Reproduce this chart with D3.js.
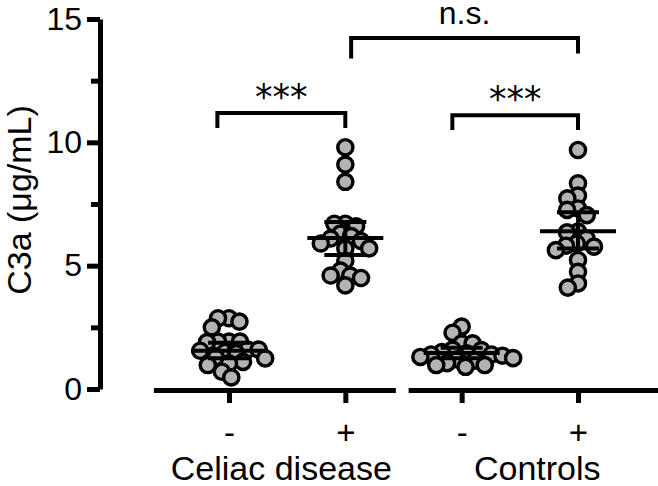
<!DOCTYPE html>
<html>
<head>
<meta charset="utf-8">
<script src="https://cdn.jsdelivr.net/npm/d3@7"></script>
<style>
  body { margin: 0; background: #fff; }
  svg { display: block; }
  text { font-family: "Liberation Sans", Arial, sans-serif; fill: #000; }
</style>
</head>
<body>
<svg id="chart" width="658" height="486"></svg>
<script>
// group labels along the x axis
var conditions = ['-', '+', '-', '+'];
var categories = ['Celiac disease', 'Controls'];

// C3a (ug/mL), one array per group
var celiacNeg = [2.87, 2.73, 2.87, 2.5, 1.92, 1.92, 1.9, 1.92, 1.6, 1.55, 1.5, 1.45,
                 1.6, 1.24, 1.28, 0.97, 1.04, 0.7, 0.47, 1.1];
var celiacPos = [9.8, 9.1, 8.4, 6.7, 6.6, 6.7, 6.3, 6.2, 6.0, 6.1, 5.9, 5.7, 5.7,
                 5.2, 4.8, 4.6, 4.5, 4.6, 4.2];
var controlNeg = [2.53, 2.28, 1.85, 1.85, 1.6, 1.58, 1.5, 1.45, 1.4, 1.4, 1.35, 1.3,
                  1.25, 1.2, 1.15, 1.05, 0.97, 0.97, 0.9];
var controlPos = [9.69, 8.34, 7.84, 7.73, 7.05, 7.32, 7.26, 6.35, 6.38, 5.81, 5.63,
                  5.77, 5.23, 4.75, 4.11, 4.28, 5.9, 6.1];

// mean with 95% CI
var means = [1.55, 6.12, 1.46, 6.4];
var ciLow = [1.25, 5.43, 1.25, 5.7];
var ciHigh = [1.87, 6.77, 1.67, 7.17];

var yTicks = [0, 5, 10, 15];
var yMinor = [2.5, 7.5, 12.5];

// significance brackets: from/to in group units, top level, leg ends
var comparisons = [
    {from: -0.1, to: 1, top: 11.19, legL: 10.58, legR: 10.58, label: '***'},
    {from: 1.92, to: 3, top: 11.1, legL: 10.5, legR: 10.5, label: '***'},
    {from: 1.05, to: 3, top: 14.23, legL: 13.4, legR: 13.6, label: 'n.s.'}
];

var groups = [celiacNeg, celiacPos, controlNeg, controlPos];

var svg = d3.select('#chart');
var y = d3.scaleLinear().domain([0, 15]).range([389, 19]);
var x = d3.scaleLinear().domain([0, 3]).range([229, 578]);

// simple beeswarm so overlapping dots spread sideways
function swarm(values, cx, d) {
    var pts = values.map(function(v) { return {v: v, y: y(v)}; })
        .sort(function(a, b) { return a.y - b.y; });
    var placed = [];
    pts.forEach(function(p) {
        var cands = [0];
        var near = placed.filter(function(q) { return Math.abs(q.y - p.y) < d; });
        near.forEach(function(q) {
            var w = Math.sqrt(d * d - (q.y - p.y) * (q.y - p.y));
            cands.push(q.dx - w, q.dx + w);
        });
        cands.sort(function(a, b) { return Math.abs(a) - Math.abs(b); });
        for (var i = 0; i < cands.length; i++) {
            var c = cands[i];
            var ok = near.every(function(q) {
                return Math.pow(c - q.dx, 2) + Math.pow(q.y - p.y, 2) >= d * d - 0.01;
            });
            if (ok) { p.dx = c; break; }
        }
        placed.push(p);
    });
    placed.forEach(function(p) { p.x = cx + p.dx; });
    return placed;
}

// dots
groups.forEach(function(vals, gi) {
    svg.append('g')
        .selectAll('circle')
        .data(swarm(vals, x(gi), 11))
        .enter()
        .append('circle')
            .attr('cx', function(p) { return p.x; })
            .attr('cy', function(p) { return p.y; })
            .attr('r', 7.6)
            .attr('fill', '#b3b3b3')
            .attr('stroke', '#000')
            .attr('stroke-width', 3.4);
});

// mean and CI
var err = svg.append('g').attr('stroke', '#000').attr('stroke-width', 4);
means.forEach(function(m, gi) {
    var cx = x(gi);
    err.append('line').attr('x1', cx - 38).attr('x2', cx + 38)
        .attr('y1', y(m)).attr('y2', y(m));
    err.append('line').attr('x1', cx).attr('x2', cx)
        .attr('y1', y(ciLow[gi])).attr('y2', y(ciHigh[gi]));
    [ciLow[gi], ciHigh[gi]].forEach(function(v) {
        err.append('line').attr('x1', cx - 21).attr('x2', cx + 21)
            .attr('y1', y(v)).attr('y2', y(v));
    });
});

// y axis
var yAxis = svg.append('g').attr('transform', 'translate(100,0)')
    .call(d3.axisLeft(y).tickValues(yTicks).tickSize(13).tickSizeOuter(0).tickPadding(5));
svg.append('g').attr('transform', 'translate(100,0)')
    .call(d3.axisLeft(y).tickValues(yMinor).tickSize(9).tickSizeOuter(0).tickFormat(''))
    .select('.domain').remove();
svg.selectAll('.tick line').attr('stroke-width', 5);
yAxis.select('.domain').attr('stroke-width', 5);
yAxis.selectAll('.tick text')
    .style('font-size', '32px')
    .style('font-family', '"Liberation Sans", Arial, sans-serif');

svg.append('text')
    .attr('transform', 'translate(31,' + 200 + ') rotate(-90)')
    .attr('text-anchor', 'middle')
    .style('font-size', '34px')
    .text('C3a (\u03bcg/mL)');

// x axis: two segments, one per category
var segments = [[-0.65, 1.43, [0, 1]], [1.54, 3.7, [2, 3]]];
segments.forEach(function(s) {
    var sx = d3.scaleLinear().domain([s[0], s[1]]).range([x(s[0]), x(s[1])]);
    var g = svg.append('g').attr('transform', 'translate(0,390)')
        .call(d3.axisBottom(sx).tickValues(s[2]).tickSize(13).tickSizeOuter(0).tickPadding(18)
            .tickFormat(function(d) { return conditions[d]; }));
    g.select('.domain').attr('stroke-width', 5);
    g.selectAll('.tick line').attr('stroke-width', 5);
    g.selectAll('.tick text')
        .style('font-size', '33px')
        .style('font-family', '"Liberation Sans", Arial, sans-serif');
});

svg.selectAll('.category')
    .data(categories)
    .enter()
    .append('text')
        .attr('class', 'category')
        .attr('x', function(d, i) { return x(i == 0 ? 0.45 : 2.65); })
        .attr('y', 480)
        .attr('text-anchor', 'middle')
        .style('font-size', '34px')
        .text(function(d) { return d; });

// brackets
var br = svg.append('g');
comparisons.forEach(function(c) {
    br.append('path')
        .attr('d', 'M' + x(c.from) + ',' + y(c.legL) + 'V' + y(c.top) +
                   'H' + x(c.to) + 'V' + y(c.legR))
        .attr('fill', 'none')
        .attr('stroke', '#000')
        .attr('stroke-width', 4);
    var t = br.append('text')
        .attr('x', (x(c.from) + x(c.to)) / 2)
        .attr('text-anchor', 'middle')
        .text(c.label);
    if (c.label == 'n.s.')
        t.attr('y', y(c.top) - 14).style('font-size', '32px');
    else
        t.attr('y', y(c.top) - 4).style('font-size', '35px')
            .style('font-family', '"DejaVu Sans", sans-serif');
});
</script>
</body>
</html>
